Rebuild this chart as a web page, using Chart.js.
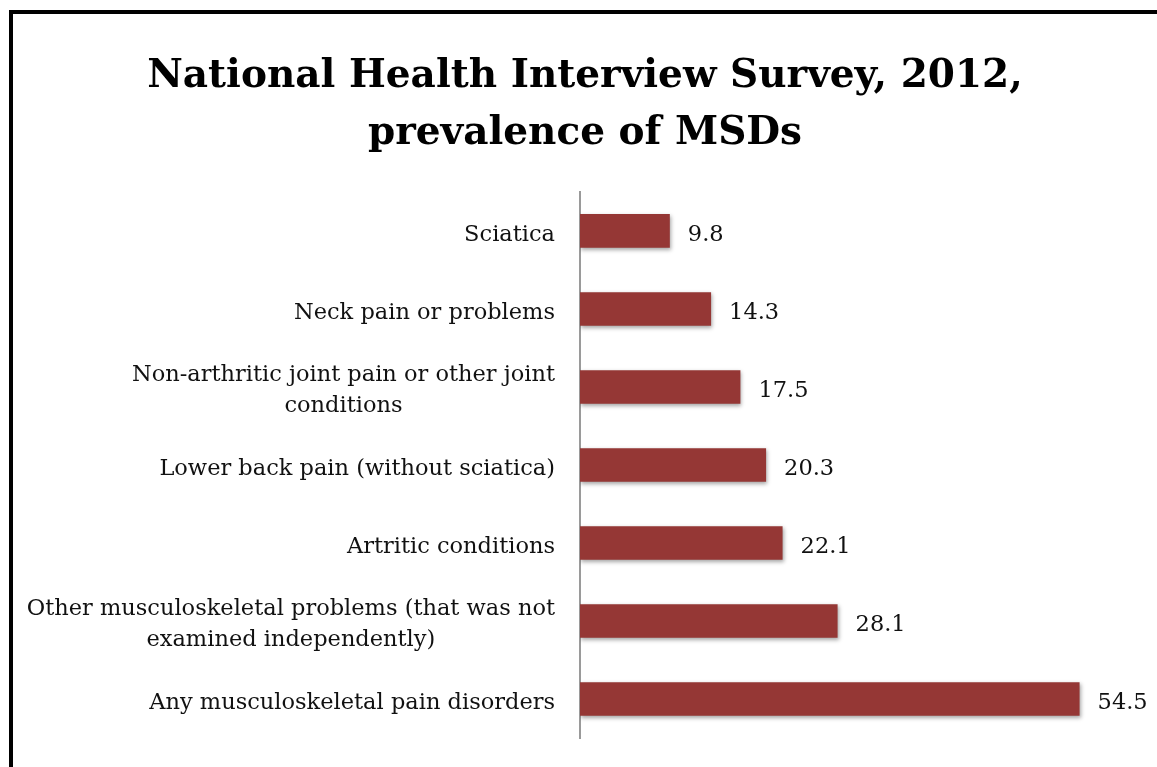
<!DOCTYPE html>
<html>
<head>
<meta charset="utf-8">
<script src="https://cdn.jsdelivr.net/npm/chart.js@4.4.1/dist/chart.umd.min.js"></script>
<style>
    body {margin: 0; background: #fff; overflow: hidden;}
    .frame {position: absolute; left: 9px; top: 10px; width: 1300px; height: 900px; border: 4px solid #000;}
    .box {position: absolute; left: 0; top: 0; width: 1144px; height: 753px;}
</style>
</head>
<body>
<div class="frame"><div class="box"><canvas id="msdChart"></canvas></div></div>
<script>
// Data
const categories = [
    ['Sciatica'],
    ['Neck pain or problems'],
    ['Non-arthritic joint pain or other joint', 'conditions'],
    ['Lower back pain (without sciatica)'],
    ['Artritic conditions'],
    ['Other musculoskeletal problems (that was not', 'examined independently)'],
    ['Any musculoskeletal pain disorders']
]
const prevalence = [9.8, 14.3, 17.5, 20.3, 22.1, 28.1, 54.5]
const titleLines = ['National Health Interview Survey, 2012,', 'prevalence of MSDs']

const labelFont = '22.5px "DejaVu Serif"'
const barColor = '#953735'

// draws category names, lines centred on the longest line, right edge near the axis
const categoryLabels = {
    id: 'categoryLabels',
    afterDraw(chart) {
        const ctx = chart.ctx
        const yScale = chart.scales.y
        const right = yScale.right - 25
        ctx.save()
        ctx.font = labelFont
        ctx.fillStyle = '#111'
        ctx.textAlign = 'center'
        ctx.textBaseline = 'middle'
        categories.forEach((lines, i) => {
            const w = Math.max(...lines.map(l => ctx.measureText(l).width))
            const cy = yScale.getPixelForValue(i) + 4
            const lh = 31
            lines.forEach((l, j) => {
                ctx.fillText(l, right - w / 2, cy + (j - (lines.length - 1) / 2) * lh)
            })
        })
        ctx.restore()
    }
}

// values at the end of each bar
const valueLabels = {
    id: 'valueLabels',
    afterDatasetsDraw(chart) {
        const ctx = chart.ctx
        const meta = chart.getDatasetMeta(0)
        ctx.save()
        ctx.font = labelFont
        ctx.fillStyle = '#111'
        ctx.textAlign = 'left'
        ctx.textBaseline = 'middle'
        meta.data.forEach((bar, i) => {
            ctx.fillText(prevalence[i].toFixed(1), bar.x + 18, bar.y + 4)
        })
        ctx.restore()
    }
}

// soft shadow under bars
const barShadow = {
    id: 'barShadow',
    beforeDatasetDraw(chart) {
        const ctx = chart.ctx
        ctx.save()
        ctx.shadowColor = 'rgba(0, 0, 0, 0.35)'
        ctx.shadowBlur = 4
        ctx.shadowOffsetX = 1
        ctx.shadowOffsetY = 2
    },
    afterDatasetDraw(chart) {
        chart.ctx.restore()
    }
}

const chart = new Chart(document.getElementById('msdChart'), {
    type: 'bar',
    data: {
        labels: categories,
        datasets: [{
            data: prevalence,
            backgroundColor: barColor,
            borderWidth: 0,
            barPercentage: 0.43,
            categoryPercentage: 1
        }]
    },
    plugins: [barShadow, valueLabels, categoryLabels],
    options: {
        indexAxis: 'y',
        responsive: true,
        maintainAspectRatio: false,
        animation: false,
        layout: {padding: {top: 0, right: 27, bottom: 29, left: 27}},
        plugins: {
            legend: {display: false},
            tooltip: {enabled: false},
            title: {
                display: true,
                text: titleLines,
                color: '#000',
                font: {family: '"DejaVu Serif"', size: 39, weight: 'bold', lineHeight: 1.46},
                padding: {top: 34, bottom: 30}
            }
        },
        scales: {
            x: {display: false, min: 0, max: 60},
            y: {
                afterFit: (scale) => { scale.width = 540 },
                ticks: {display: false},
                grid: {display: false},
                border: {display: true, color: '#9a9a9a', width: 2}
            }
        }
    }
});
</script>
</body>
</html>
